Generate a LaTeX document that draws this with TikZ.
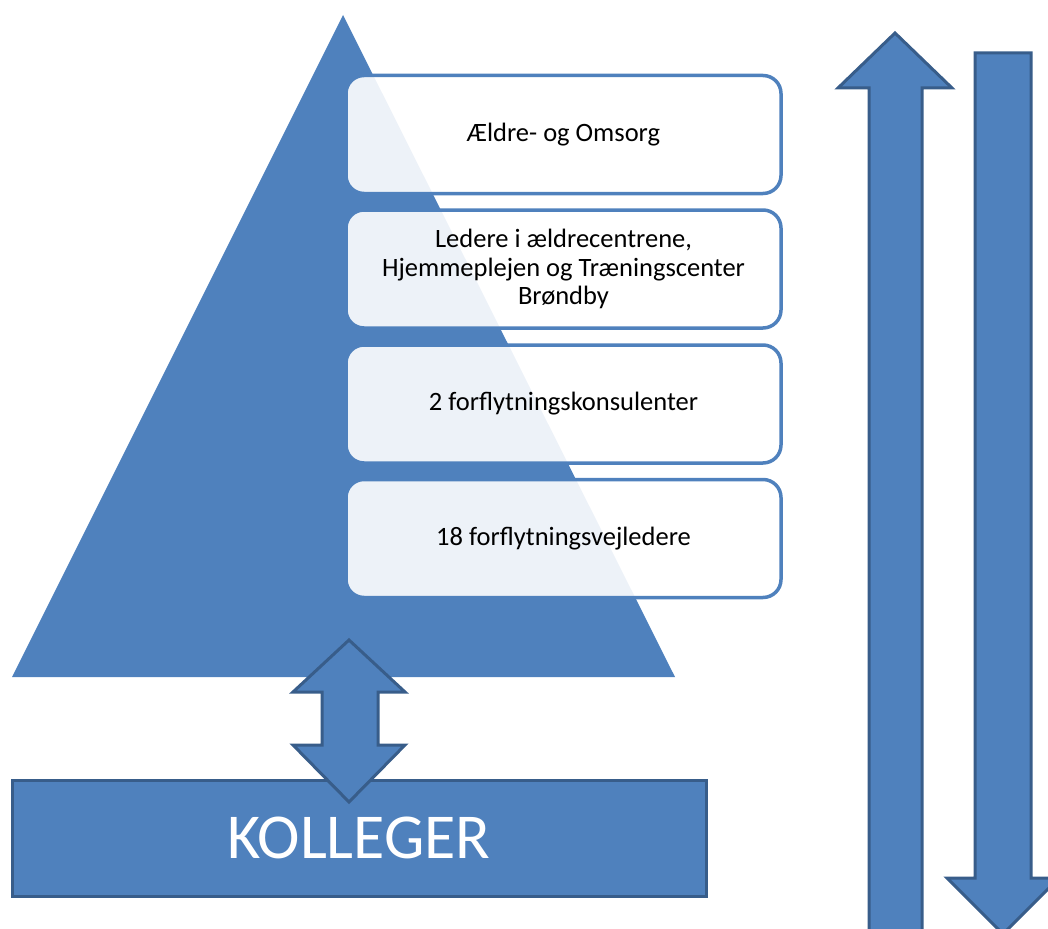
\documentclass[tikz,border=0pt]{standalone}
\usepackage{fontspec}
\setmainfont{Carlito}
\definecolor{pyr}{HTML}{4F81BD}
\definecolor{edge}{HTML}{385D8A}
\tikzset{
  levelbox/.style={draw=pyr, line width=3.5pt, rounded corners=18pt, fill=white, fill opacity=0.9, text opacity=1,
    minimum width=435pt, minimum height=118pt, align=center, inner sep=0pt,
    font=\fontsize{26.5}{28.5}\selectfont, text=black},
  bluearrow/.style={fill=pyr, draw=edge, line width=3pt, line join=miter},
  kbox/.style={fill=pyr, draw=edge, line width=3pt, minimum width=694pt, minimum height=116pt,
    inner sep=0pt, text=white, font=\fontsize{64}{66}\selectfont}
}
\begin{document}
\begin{tikzpicture}[x=1pt,y=-1pt]
\useasboundingbox (0,0) rectangle (1048,928);
\clip (0,0) rectangle (1048,928);
% pyramid
\fill[pyr] (343,15) -- (675,677) -- (12,677) -- cycle;
% level boxes
\node[levelbox] (b1) at (563.5,134.5) {Ældre- og Omsorg};
\node[levelbox] (b2) at (563.5,269) {Ledere i ældrecentrene,\\Hjemmeplejen og Træningscenter\\Brøndby};
\node[levelbox] (b3) at (563.5,404) {2 forflytningskonsulenter};
\node[levelbox] (b4) at (563.5,538.5) {18 forflytningsvejledere};
% colleagues box
\node[kbox] (k) at (359,838) {KOLLEGER};
% double arrow between pyramid and colleagues
\draw[bluearrow] (349,640) -- (405,692) -- (378,692) -- (378,745) -- (405,745) -- (349,802)
  -- (293,745) -- (322,745) -- (322,692) -- (293,692) -- cycle;
% up arrow
\draw[bluearrow] (895,33) -- (952,88) -- (922,88) -- (922,940) -- (869,940) -- (869,88) -- (838,88) -- cycle;
% down arrow
\draw[bluearrow] (975,53) -- (1031,53) -- (1031,878) -- (1059,878) -- (1003,934) -- (947,878) -- (975,878) -- cycle;
\end{tikzpicture}
\end{document}
